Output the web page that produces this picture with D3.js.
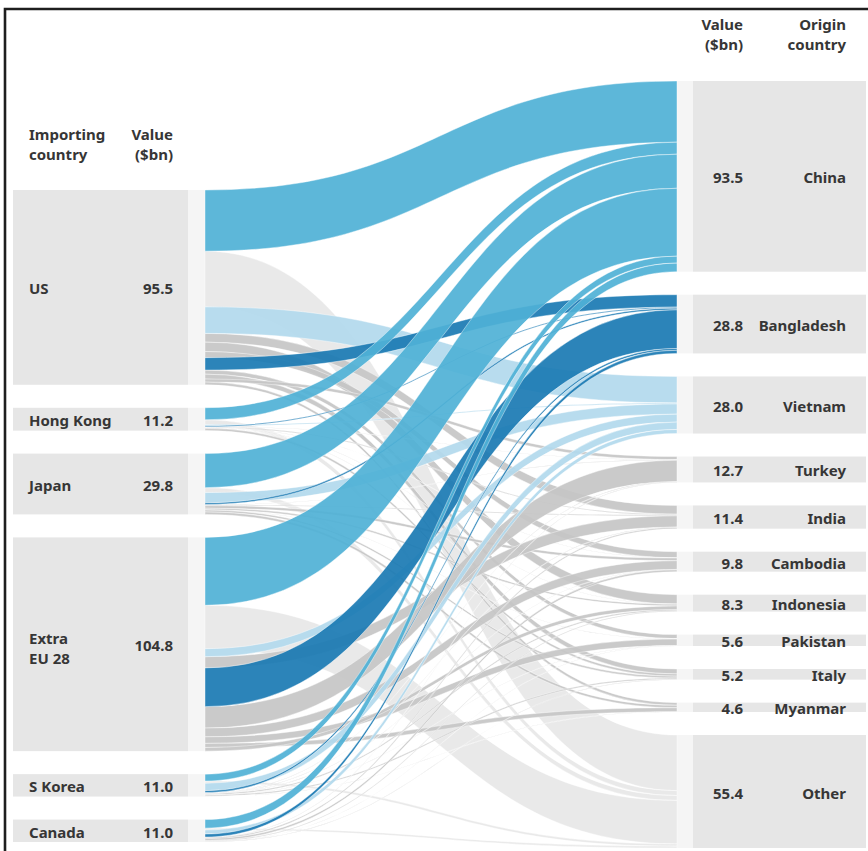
<!DOCTYPE html>
<html>
<head>
<meta charset="utf-8">
<script src="https://cdn.jsdelivr.net/npm/d3@7"></script>
<style>
  html, body { margin: 0; padding: 0; background: #fff; }
  svg { display: block; font-family: "Noto Sans", "Open Sans", sans-serif; }
</style>
</head>
<body>
<svg id="chart" width="868" height="851"></svg>
<script>
// Importing countries (left column) and their totals, $bn
const importers = ["US", "Hong Kong", "Japan", "Extra EU 28", "S Korea", "Canada"];
const importerLines = [["US"], ["Hong Kong"], ["Japan"], ["Extra", "EU 28"], ["S Korea"], ["Canada"]];
const importerValues = [95.5, 11.2, 29.8, 104.8, 11.0, 11.0];

// Origin countries (right column) and their totals, $bn
const origins = ["China", "Bangladesh", "Vietnam", "Turkey", "India", "Cambodia",
                 "Indonesia", "Pakistan", "Italy", "Myanmar", "Other"];
const originValues = [93.5, 28.8, 28.0, 12.7, 11.4, 9.8, 8.3, 5.6, 5.2, 4.6, 55.4];

// Flows from each importer, listed in the same order as `origins`
const flowsUS       = [30.0, 6.1, 13.0, 1.5, 4.3, 3.0, 4.6, 2.0, 2.4, 1.3, 27.3];
const flowsHongKong = [5.9, 0.5, 0.5, 0.1, 0.4, 0.1, 0.1, 0.1, 1.1, 0.0, 2.4];
const flowsJapan    = [16.7, 0.8, 5.0, 0.2, 0.4, 1.3, 0.8, 0.1, 0.9, 1.2, 2.4];
const flowsEU       = [33.3, 19.0, 3.9, 10.5, 5.5, 4.3, 1.8, 3.2, 0.0, 2.0, 21.3];
const flowsKorea    = [3.4, 0.9, 3.6, 0.2, 0.2, 0.2, 0.6, 0.1, 0.6, 0.1, 1.1];
const flowsCanada   = [4.2, 1.5, 2.0, 0.2, 0.6, 0.9, 0.4, 0.1, 0.2, 0.0, 0.9];
const flowRows = [flowsUS, flowsHongKong, flowsJapan, flowsEU, flowsKorea, flowsCanada];

// Stacking order of the ribbons where they leave each importer
const orderUS = ["China", "Other", "Vietnam", "India", "Indonesia", "Cambodia", "Bangladesh", "Pakistan", "Italy", "Turkey", "Myanmar"];
const orderEU = ["China", "Other", "Vietnam", "India", "Bangladesh", "Turkey", "Cambodia", "Pakistan", "Myanmar", "Indonesia", "Italy"];
const orderDefault = ["China", "Other", "Vietnam", "Bangladesh", "Turkey", "India", "Cambodia", "Indonesia", "Pakistan", "Italy", "Myanmar"];
const sourceOrders = [orderUS, orderDefault, orderDefault, orderEU, orderDefault, orderDefault];

// Ribbon colours by origin
const linkColor = d3.scaleOrdinal()
  .domain(["China", "Bangladesh", "Vietnam", "Other"])
  .range(["#4fb1d6", "#1a7ab3", "#b2d9ed", "#e9e9e9"])
  .unknown("#c6c6c6");
const layerRank = { "Other": 0, "Vietnam": 2, "Bangladesh": 3, "China": 4 };

// ---- layout ----
const svg = d3.select("#chart");
const leftTop = 190, leftBottom = 842, rightTop = 81, rightBottom = 848;
const linkX0 = 205, linkX1 = 677;
const leftBox = [13, 188], rightBox = [693, 866];
const leftPad = 23;
const fmt = d3.format(".1f");
const textColor = "#363636";
const fontSize = 15;

const total = d3.sum(importerValues);
const k = (leftBottom - leftTop - leftPad * (importers.length - 1)) / total;
const size = d3.scaleLinear().domain([0, total]).range([0, total * k]);
const rightPad = (rightBottom - rightTop - size(d3.sum(originValues))) / (origins.length - 1);

function stackNodes(names, values, top, pad) {
  let y = top;
  return names.map((name, i) => {
    const h = size(values[i]);
    const n = { name, value: values[i], y0: y, y1: y + h };
    y += h + pad;
    return n;
  });
}
const leftNodes = stackNodes(importers, importerValues, leftTop, leftPad);
const rightNodes = stackNodes(origins, originValues, rightTop, rightPad);

// Build links with source offsets (per importer order) and target offsets (by importer order)
const links = [];
flowRows.forEach((row, i) => {
  let y = leftNodes[i].y0;
  sourceOrders[i].forEach(oName => {
    const j = origins.indexOf(oName);
    const v = row[j];
    if (v <= 0) return;
    const h = size(v);
    links.push({ source: i, target: j, origin: oName, value: v, sy0: y, sy1: y + h });
    y += h;
  });
});
const targetCursor = rightNodes.map(n => n.y0);
d3.range(importers.length).forEach(i => {
  origins.forEach((o, j) => {
    const l = links.find(d => d.source === i && d.target === j);
    if (!l) return;
    const h = l.sy1 - l.sy0;
    l.ty0 = targetCursor[j];
    l.ty1 = targetCursor[j] + h;
    targetCursor[j] += h;
  });
});

function ribbon(d) {
  const xm = (linkX0 + linkX1) / 2;
  const p = d3.path();
  p.moveTo(linkX0, d.sy0);
  p.bezierCurveTo(xm, d.sy0, xm, d.ty0, linkX1, d.ty0);
  p.lineTo(linkX1, d.ty1);
  p.bezierCurveTo(xm, d.ty1, xm, d.sy1, linkX0, d.sy1);
  p.closePath();
  return p.toString();
}

// ---- frame ----
svg.append("path")
  .attr("d", `M5,${851} L5,9 L868,9`)
  .attr("fill", "none")
  .attr("stroke", "#1e1e1e")
  .attr("stroke-width", 2.6);

// ---- node label boxes and strips ----
const gLeft = svg.append("g");
gLeft.selectAll("rect.box").data(leftNodes).join("rect")
  .attr("class", "box")
  .attr("x", leftBox[0]).attr("width", leftBox[1] - leftBox[0])
  .attr("y", d => d.y0).attr("height", d => d.y1 - d.y0)
  .attr("fill", "#e6e6e6");
gLeft.selectAll("rect.strip").data(leftNodes).join("rect")
  .attr("class", "strip")
  .attr("x", leftBox[1]).attr("width", linkX0 - leftBox[1])
  .attr("y", d => d.y0).attr("height", d => d.y1 - d.y0)
  .attr("fill", "#f5f5f5");

const gRight = svg.append("g");
gRight.selectAll("rect.box").data(rightNodes).join("rect")
  .attr("class", "box")
  .attr("x", rightBox[0]).attr("width", rightBox[1] - rightBox[0])
  .attr("y", d => d.y0).attr("height", d => d.y1 - d.y0)
  .attr("fill", "#e6e6e6");
gRight.selectAll("rect.strip").data(rightNodes).join("rect")
  .attr("class", "strip")
  .attr("x", linkX1).attr("width", rightBox[0] - linkX1)
  .attr("y", d => d.y0).attr("height", d => d.y1 - d.y0)
  .attr("fill", "#f5f5f5");

// ---- ribbons ----
const sorted = links.slice().sort((a, b) =>
  (layerRank[a.origin] ?? 1) - (layerRank[b.origin] ?? 1));
svg.append("g").selectAll("path").data(sorted).join("path")
  .attr("d", ribbon)
  .attr("fill", d => linkColor(d.origin))
  .attr("fill-opacity", d => d.origin === "Other" ? 1 : 0.92)
  .attr("stroke", "#ffffff")
  .attr("stroke-opacity", 0.7)
  .attr("stroke-width", 0.6);

// ---- text ----
const text = svg.append("g")
  .attr("fill", textColor)
  .attr("font-size", fontSize)
  .attr("font-weight", 700);

// column headers
text.append("text").attr("x", 29).attr("y", 140).text("Importing");
text.append("text").attr("x", 29).attr("y", 160).text("country");
text.append("text").attr("x", 173).attr("y", 140).attr("text-anchor", "end").text("Value");
text.append("text").attr("x", 173).attr("y", 160).attr("text-anchor", "end").text("($bn)");
text.append("text").attr("x", 743).attr("y", 30).attr("text-anchor", "end").text("Value");
text.append("text").attr("x", 743).attr("y", 50).attr("text-anchor", "end").text("($bn)");
text.append("text").attr("x", 846).attr("y", 30).attr("text-anchor", "end").text("Origin");
text.append("text").attr("x", 846).attr("y", 50).attr("text-anchor", "end").text("country");

const capOffset = 7;
leftNodes.forEach((n, i) => {
  const c = (n.y0 + n.y1) / 2;
  const lines = importerLines[i];
  if (lines.length === 1) {
    text.append("text").attr("x", 29).attr("y", c + capOffset).text(lines[0]);
  } else {
    text.append("text").attr("x", 29).attr("y", c + capOffset - 7).text(lines[0]);
    text.append("text").attr("x", 29).attr("y", c + capOffset + 13).text(lines[1]);
  }
  text.append("text").attr("x", 173).attr("y", c + capOffset)
    .attr("text-anchor", "end").text(fmt(n.value));
});
rightNodes.forEach(n => {
  const c = (n.y0 + n.y1) / 2;
  text.append("text").attr("x", 743).attr("y", c + capOffset)
    .attr("text-anchor", "end").text(fmt(n.value));
  text.append("text").attr("x", 846).attr("y", c + capOffset)
    .attr("text-anchor", "end").text(n.name);
});
</script>
</body>
</html>
